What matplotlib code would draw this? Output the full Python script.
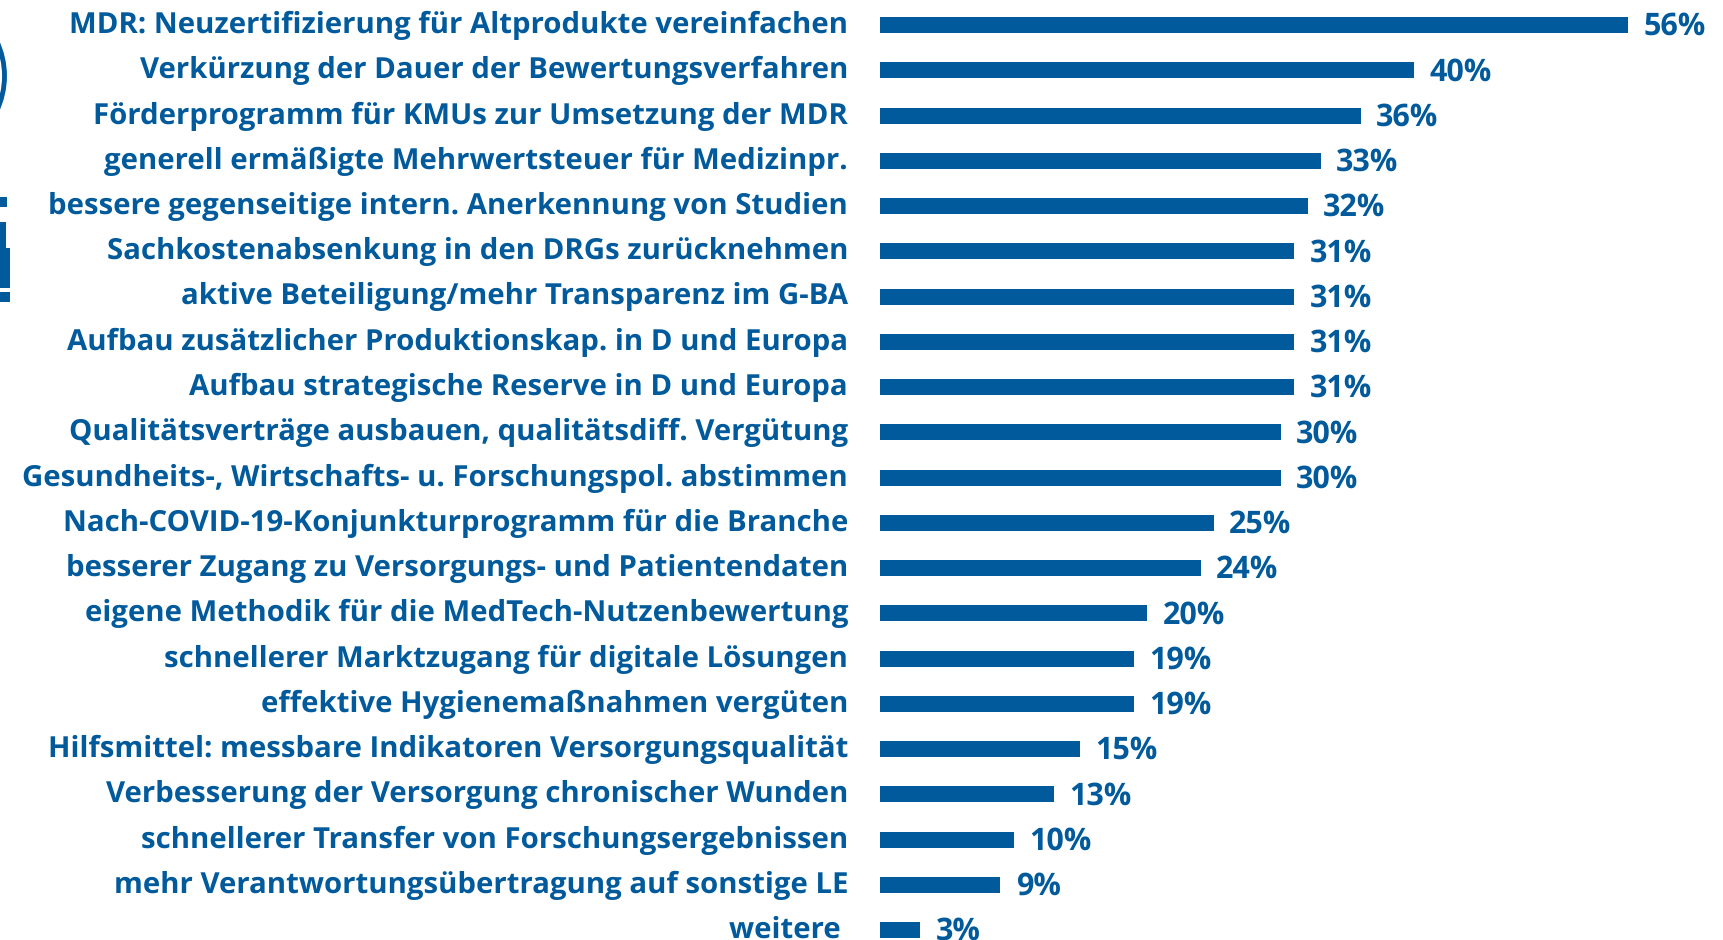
import matplotlib
matplotlib.use("Agg")
import matplotlib.pyplot as plt
from matplotlib.patches import Rectangle, Arc
from matplotlib.transforms import ScaledTranslation

categories = [
    "MDR: Neuzertifizierung für Altprodukte vereinfachen",
    "Verkürzung der Dauer der Bewertungsverfahren",
    "Förderprogramm für KMUs zur Umsetzung der MDR",
    "generell ermäßigte Mehrwertsteuer für Medizinpr.",
    "bessere gegenseitige intern. Anerkennung von Studien",
    "Sachkostenabsenkung in den DRGs zurücknehmen",
    "aktive Beteiligung/mehr Transparenz im G-BA",
    "Aufbau zusätzlicher Produktionskap. in D und Europa",
    "Aufbau strategische Reserve in D und Europa",
    "Qualitätsverträge ausbauen, qualitätsdiff. Vergütung",
    "Gesundheits-, Wirtschafts- u. Forschungspol. abstimmen",
    "Nach-COVID-19-Konjunkturprogramm für die Branche",
    "besserer Zugang zu Versorgungs- und Patientendaten",
    "eigene Methodik für die MedTech-Nutzenbewertung",
    "schnellerer Marktzugang für digitale Lösungen",
    "effektive Hygienemaßnahmen vergüten",
    "Hilfsmittel: messbare Indikatoren Versorgungsqualität",
    "Verbesserung der Versorgung chronischer Wunden",
    "schnellerer Transfer von Forschungsergebnissen",
    "mehr Verantwortungsübertragung auf sonstige LE",
    "weitere ",
]
values = [56, 40, 36, 33, 32, 31, 31, 31, 31, 30, 30, 25, 24, 20, 19, 19, 15, 13, 10, 9, 3]

BLUE = "#005a9b"
W, H = 1724, 940
plt.rcParams["font.family"] = ["Open Sans", "DejaVu Sans"]
plt.rcParams["text.hinting"] = "no_hinting"
fig = plt.figure(figsize=(W / 100, H / 100), dpi=100)
ax = fig.add_axes([880 / W, 0, (W - 880) / W, 1])

positions = list(range(len(values)))
ax.barh(positions, values, height=16 / 45.25, color=BLUE)
ax.set_xlim(0, (W - 880) / 13.36)
ax.set_ylim((H - 25) / 45.25, -25 / 45.25)
ax.set_yticks(positions)
ax.set_yticklabels(categories, fontsize=21.2, color=BLUE, fontweight="bold")
ax.tick_params(axis="y", length=0, pad=23)
ax.tick_params(axis="x", bottom=False, labelbottom=False)
for lab in ax.get_yticklabels():
    lab.set_transform(lab.get_transform() + ScaledTranslation(0, 3 / 100, fig.dpi_scale_trans))
for s in ax.spines.values():
    s.set_visible(False)
ax.patch.set_visible(False)

for i, v in enumerate(values):
    ax.annotate(f"{v}%", (v, i), xytext=(11, -1.5), textcoords="offset points",
                va="center", ha="left", fontsize=22, color=BLUE, fontweight="bold")

# cropped logo fragments at the left edge
deco = fig.add_axes([0, 0, 1, 1])
deco.set_xlim(0, W)
deco.set_ylim(H, 0)
deco.axis("off")
deco.add_patch(Arc((-77, 76), 163, 163, theta1=-26, theta2=26, color=BLUE, lw=3.5))
deco.add_patch(Rectangle((0, 197), 7, 10, color=BLUE, lw=0))
deco.add_patch(Rectangle((0, 222), 6, 26, color=BLUE, lw=0))
deco.add_patch(Rectangle((0, 248), 10, 40, color=BLUE, lw=0))
deco.add_patch(Rectangle((0, 292), 10, 10, color=BLUE, lw=0))

fig.savefig("out.png", dpi=100)
